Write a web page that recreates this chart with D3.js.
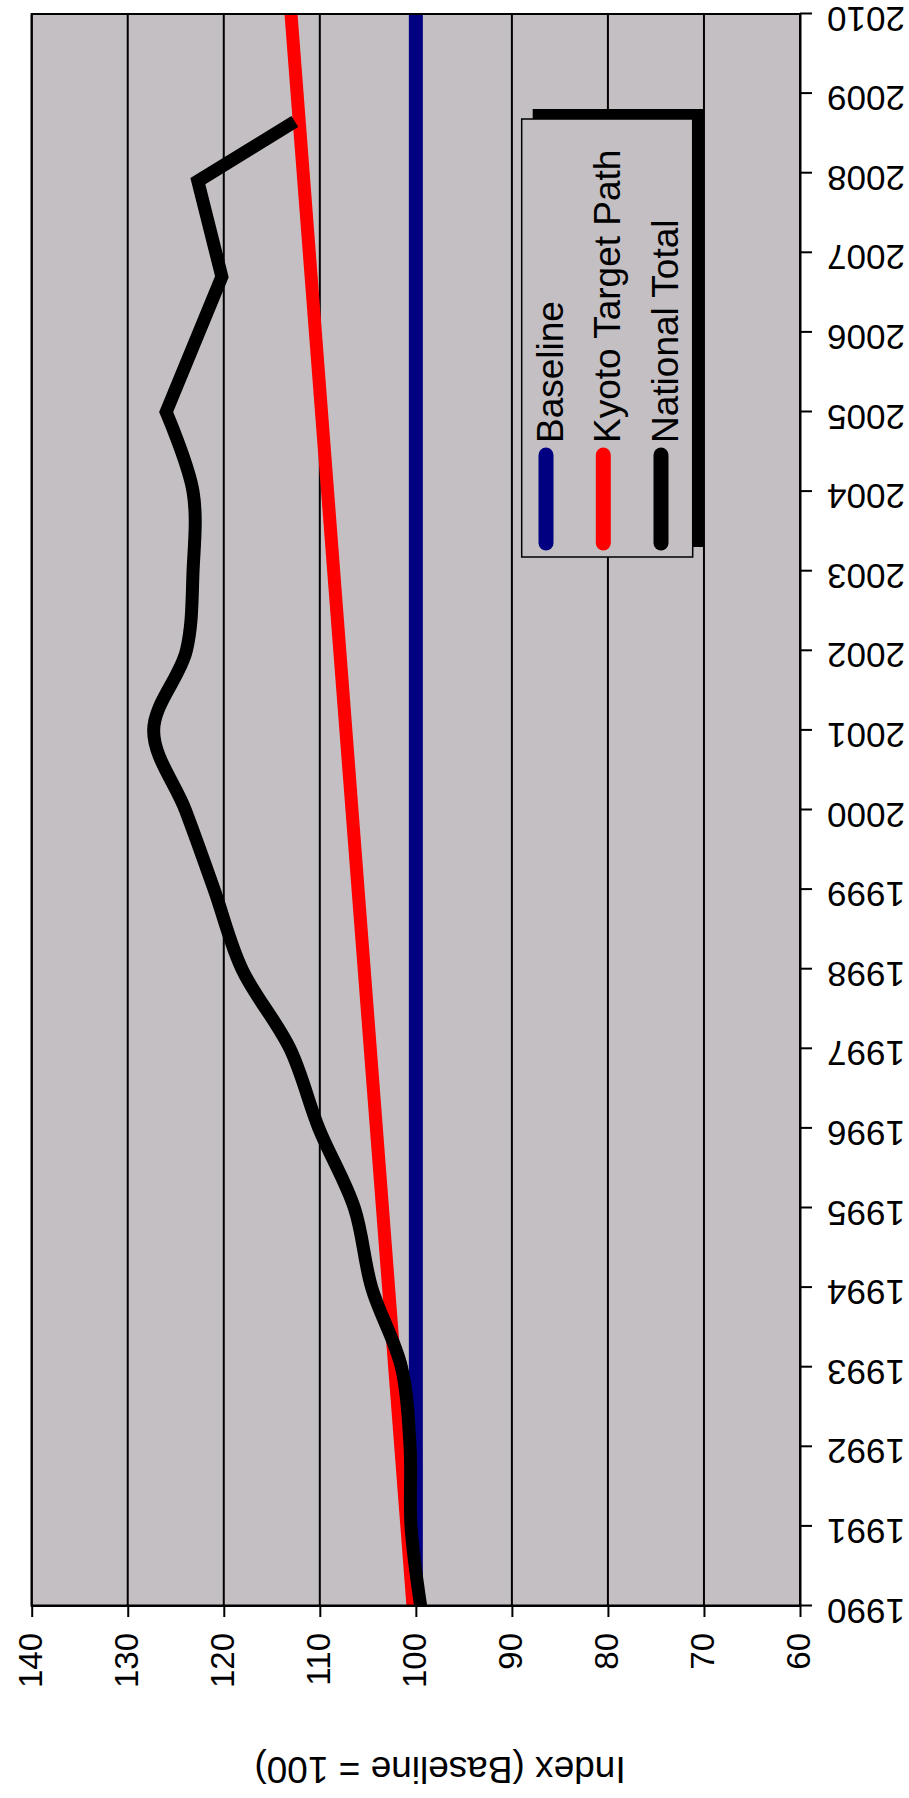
<!DOCTYPE html>
<html><head><meta charset="utf-8">
<script src="https://cdn.jsdelivr.net/npm/d3@7/dist/d3.min.js"></script>
<style>html,body{margin:0;padding:0;background:#fff;} svg{display:block;}</style>
</head><body>
<script>
// ---- data ----
const yearTicks = [1990,1991,1992,1993,1994,1995,1996,1997,1998,1999,2000,2001,2002,2003,2004,2005,2006,2007,2008,2009,2010];
const valueTicks = [60,70,80,90,100,110,120,130,140];

const baselineYears = [1990, 2010];
const baselineValues = [100, 100];

const kyotoYears = [1990, 2010];
const kyotoValues = [100.3, 113];

const nationalYears = [1990,1991,1992,1993,1994,1995,1996,1997,1998,1999,2000,2001,2002,2003,2004,2005,2006.7,2007.9,2008.65];
const nationalValues = [99.5,100.5,100.6,101.5,104.6,106.4,110.1,113.1,118.1,121.0,124.0,127.3,123.9,123.2,123.2,126.0,120.2,122.7,112.6];

const legendLabels = ["Baseline","Kyoto Target Path","National Total"];
const seriesColors = ["#000080","#ff0000","#000000"];

// ---- layout (chart drawn in its own frame, then turned a quarter turn) ----
const W = 909, H = 1798;
const FONT = "'Liberation Sans', Arial, sans-serif";
const plot = {x0: 192, x1: 1784, y0: 31.7, y1: 800};

const svg = d3.select("body").append("svg").attr("width", W).attr("height", H);
const g = svg.append("g").attr("transform", `translate(0,${H}) rotate(-90)`);

const x = d3.scaleLinear().domain([1990, 2010]).range([plot.x0, plot.x1]);
const y = d3.scaleLinear().domain([60, 140]).range([plot.y1, plot.y0]);

// plot background
g.append("rect").attr("x", plot.x0).attr("y", plot.y0)
  .attr("width", plot.x1 - plot.x0).attr("height", plot.y1 - plot.y0)
  .attr("fill", "#c3bfc3");

// gridlines
g.append("g").selectAll("line").data(valueTicks).join("line")
  .attr("x1", plot.x0).attr("x2", plot.x1)
  .attr("y1", d => y(d)).attr("y2", d => y(d))
  .attr("stroke", "#000").attr("stroke-width", 2);

// clip
g.append("clipPath").attr("id", "clip").append("rect")
  .attr("x", plot.x0).attr("y", plot.y0)
  .attr("width", plot.x1 - plot.x0).attr("height", plot.y1 - plot.y0);

const lines = g.append("g").attr("clip-path", "url(#clip)");
const lineLin = d3.line().x(d => x(d[0])).y(d => y(d[1]));
const lineSmooth = d3.line().x(d => x(d[0])).y(d => y(d[1])).curve(d3.curveCatmullRom.alpha(0.5));

const basePts = baselineYears.map((d, i) => [d, baselineValues[i]]);
const kyotoPts = kyotoYears.map((d, i) => [d, kyotoValues[i]]);
const natPts = nationalYears.map((d, i) => [d, nationalValues[i]]);

lines.append("path").attr("d", lineLin(basePts))
  .attr("fill", "none").attr("stroke", seriesColors[0]).attr("stroke-width", 14);
lines.append("path").attr("d", lineLin(kyotoPts))
  .attr("fill", "none").attr("stroke", seriesColors[1]).attr("stroke-width", 13);
// national total: smooth up to 2005, straight segments afterwards
const split = nationalYears.indexOf(2005);
const natPath = lineSmooth(natPts.slice(0, split + 1)) + lineLin(natPts.slice(split)).replace(/^M/, "L");
lines.append("path").attr("d", natPath)
  .attr("fill", "none").attr("stroke", seriesColors[2]).attr("stroke-width", 13)
  .attr("stroke-linejoin", "miter").attr("stroke-linecap", "butt");

// plot border
g.append("rect").attr("x", plot.x0).attr("y", plot.y0)
  .attr("width", plot.x1 - plot.x0).attr("height", plot.y1 - plot.y0)
  .attr("fill", "none").attr("stroke", "#000").attr("stroke-width", 2);

// value axis (left in own frame)
const yAxis = g.append("g").attr("transform", `translate(${plot.x0},0)`)
  .call(d3.axisLeft(y).tickValues(valueTicks).tickSize(11).tickPadding(16).tickSizeOuter(0));
yAxis.select(".domain").attr("stroke", "#000").attr("stroke-width", 2);
yAxis.selectAll(".tick line").attr("stroke", "#000").attr("stroke-width", 2);
yAxis.selectAll(".tick text").attr("fill", "#000")
  .style("font-family", FONT).style("font-size", "33px").attr("dy", "0.3em");

// year axis (bottom in own frame)
const xAxis = g.append("g").attr("transform", `translate(0,${plot.y1})`)
  .call(d3.axisBottom(x).tickValues(yearTicks).tickSize(12).tickSizeOuter(0).tickFormat(d3.format("d")));
xAxis.select(".domain").attr("stroke", "#000").attr("stroke-width", 2);
xAxis.selectAll(".tick line").attr("stroke", "#000").attr("stroke-width", 2);
xAxis.selectAll(".tick text").attr("fill", "#000")
  .attr("transform", "rotate(-90)").attr("x", -27).attr("y", 0).attr("dy", "0.2em")
  .style("text-anchor", "end").style("font-family", FONT).style("font-size", "35px");

// value axis title
g.append("text").attr("transform", "translate(41,440) rotate(-90)")
  .attr("text-anchor", "middle").style("font-family", FONT).style("font-size", "37px")
  .attr("fill", "#000")
  .text("Index (Baseline = 100)");

// legend
const lg = {x: 1241, y: 521.7, w: 438, h: 171};
g.append("rect").attr("x", lg.x + 10).attr("y", lg.y + 11).attr("width", lg.w).attr("height", lg.h).attr("fill", "#000");
g.append("rect").attr("x", lg.x).attr("y", lg.y).attr("width", lg.w).attr("height", lg.h)
  .attr("fill", "#c3bfc3").attr("stroke", "#000").attr("stroke-width", 1.5);
const rowY = [546, 603.3, 661];
const items = g.append("g").selectAll("g").data(legendLabels).join("g")
  .attr("transform", (d, i) => `translate(0,${rowY[i]})`);
items.append("line").attr("x1", 1255).attr("x2", 1343).attr("y1", 0).attr("y2", 0)
  .attr("stroke", (d, i) => seriesColors[i]).attr("stroke-width", 15).attr("stroke-linecap", "round");
items.append("text").attr("x", 1355).attr("y", 17)
  .style("font-family", FONT).style("font-size", "37px").attr("fill", "#000")
  .text(d => d);
</script>
</body></html>
